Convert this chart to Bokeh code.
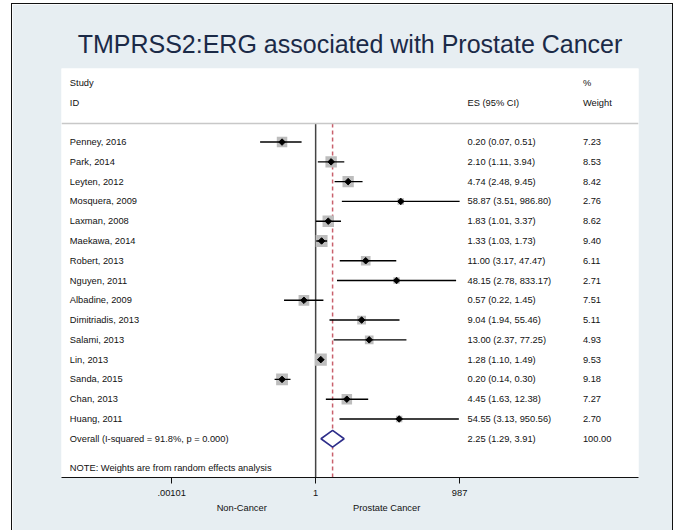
import numpy as np
from bokeh.plotting import figure
from bokeh.models import Range1d, LogAxis, FixedTicker, CustomJSTickFormatter, ColumnDataSource, Span
from bokeh.embed import file_html
from bokeh.resources import INLINE
from bokeh.core.properties import value

# ---------------- data ----------------
studies = ["Penney, 2016", "Park, 2014", "Leyten, 2012", "Mosquera, 2009", "Laxman, 2008",
           "Maekawa, 2014", "Robert, 2013", "Nguyen, 2011", "Albadine, 2009", "Dimitriadis, 2013",
           "Salami, 2013", "Lin, 2013", "Sanda, 2015", "Chan, 2013", "Huang, 2011"]
es = [0.20, 2.10, 4.74, 58.87, 1.83, 1.33, 11.00, 48.15, 0.57, 9.04, 13.00, 1.28, 0.20, 4.45, 54.55]
ci_low = [0.07, 1.11, 2.48, 3.51, 1.01, 1.03, 3.17, 2.78, 0.22, 1.94, 2.37, 1.10, 0.14, 1.63, 3.13]
ci_high = [0.51, 3.94, 9.45, 986.80, 3.37, 1.73, 47.47, 833.17, 1.45, 55.46, 77.25, 1.49, 0.30, 12.38, 950.56]
weights = [7.23, 8.53, 8.42, 2.76, 8.62, 9.40, 6.11, 2.71, 7.51, 5.11, 4.93, 9.53, 9.18, 7.27, 2.70]
overall_label = "Overall  (I-squared = 91.8%, p = 0.000)"
overall_es = 2.25
overall_low = 1.29
overall_high = 3.91
overall_weight = 100.00
tick_values = [0.00101, 1, 987]
tick_labels = [".00101", "1", "987"]
side_labels = ["Non-Cancer", "Prostate Cancer"]
title_text = "TMPRSS2:ERG associated with Prostate Cancer"
note_text = "NOTE: Weights are from random effects analysis"

# ---------------- layout constants (ln units / row units) ----------------
LN_LEFT, LN_RIGHT = -12.17, 15.46
ROW_TOP, ROW_BOTTOM = -3.72, 16.96
X_STUDY = np.exp(-11.77)
X_ES = np.exp(7.27)
X_WT = np.exp(12.80)
SIDE_POS = [np.exp(-3.54), np.exp(3.40)]
FONT = "Liberation Sans"
FS = "9.3px"

n = len(studies)
rows = list(range(n))
overall_row = n
sep_row = -0.94

p = figure(width=662, height=527, output_backend="svg", toolbar_location=None,
           x_axis_type="log", x_axis_location=None, y_axis_location=None,
           x_range=Range1d(np.exp(LN_LEFT), np.exp(LN_RIGHT)),
           y_range=Range1d(ROW_BOTTOM, ROW_TOP),
           min_border_left=49, min_border_right=36, min_border_top=64, min_border_bottom=54)
p.grid.visible = False
p.outline_line_color = None
p.background_fill_color = "white"
p.border_fill_color = "#e7eef2"
p.styles = {"border-left": "1px solid #111", "border-top": "1px solid #111",
            "border-right": "1px solid #111", "margin-left": "11px", "margin-top": "3px"}

p.title.text = title_text
p.title.align = "center"
p.title.text_font = FONT
p.title.text_font_size = "25px"
p.title.text_font_style = "normal"
p.title.text_color = "#1b2a47"
p.title.standoff = 21

src = ColumnDataSource(dict(
    study=studies, es=es, lo=ci_low, hi=ci_high, row=rows,
    size=[3.9 * np.sqrt(w) for w in weights],
    es_txt=[f"{e:.2f} ({l:.2f}, {h:.2f})" for e, l, h in zip(es, ci_low, ci_high)],
    wt_txt=[f"{w:.2f}" for w in weights],
))

# separator line under header
p.add_layout(Span(location=sep_row, dimension="width", line_color="#c8c8c8", line_width=1.5))

# null line and overall effect dashed line
p.segment(x0=[1], x1=[1], y0=[sep_row], y1=[ROW_BOTTOM + 1], line_color="#444444", line_width=1.5)
p.segment(x0=[overall_es], x1=[overall_es], y0=[sep_row], y1=[ROW_BOTTOM + 1],
          line_color="#c9606c", line_width=1.5, line_dash="4 3")

# weight boxes, CI lines, points
p.scatter(x="es", y="row", size="size", marker="square", source=src,
          fill_color="#bdbdbd", line_color=None)
p.segment(x0="lo", x1="hi", y0="row", y1="row", source=src, line_color="black", line_width=1.4)
p.scatter(x="es", y="row", size=4.6, marker="square", angle=np.pi / 4, source=src,
          fill_color="black", line_color="black")

# overall diamond
p.patch(x=[overall_low, overall_es, overall_high, overall_es],
        y=[overall_row, overall_row - 0.42, overall_row, overall_row + 0.42],
        fill_color="white", line_color="#2e2e8a", line_width=1.6)

# texts
tkw = dict(text_font=value(FONT), text_font_size=FS, text_baseline="middle", text_color="#111111")
p.text(x=X_STUDY, y="row", text="study", source=src, **tkw)
p.text(x=X_ES, y="row", text="es_txt", source=src, **tkw)
p.text(x=X_WT, y="row", text="wt_txt", source=src, **tkw)

p.text(x=[X_STUDY, X_STUDY], y=[-3, -2], text=["Study", "ID"], **tkw)
p.text(x=[X_ES], y=[-2], text=["ES (95% CI)"], **tkw)
p.text(x=[X_WT, X_WT], y=[-3, -2], text=["%", "Weight"], **tkw)

p.text(x=[X_STUDY], y=[overall_row], text=[overall_label], **tkw)
p.text(x=[X_ES], y=[overall_row], text=[f"{overall_es:.2f} ({overall_low:.2f}, {overall_high:.2f})"], **tkw)
p.text(x=[X_WT], y=[overall_row], text=[f"{overall_weight:.2f}"], **tkw)
p.text(x=[X_STUDY], y=[16.5], text=[note_text], **tkw)

# axes
ax = LogAxis(ticker=FixedTicker(ticks=tick_values),
             formatter=CustomJSTickFormatter(args=dict(labels=tick_labels), code="return labels[index];"))
ax.axis_line_color = "#111111"
ax.axis_line_width = 1.2
ax.major_tick_line_color = "#111111"
ax.major_tick_out = 6
ax.major_tick_in = 0
ax.minor_tick_line_color = None
ax.major_label_text_font = FONT
ax.major_label_text_font_size = FS
ax.major_label_text_color = "#111111"
ax.major_label_standoff = 6
p.add_layout(ax, "below")

ax2 = LogAxis(ticker=FixedTicker(ticks=SIDE_POS),
              formatter=CustomJSTickFormatter(args=dict(labels=side_labels), code="return labels[index];"))
ax2.axis_line_color = None
ax2.major_tick_line_color = None
ax2.minor_tick_line_color = None
ax2.major_label_text_font = FONT
ax2.major_label_text_font_size = FS
ax2.major_label_text_color = "#111111"
ax2.major_label_standoff = -2
p.add_layout(ax2, "below")

open("out.html", "w").write(file_html(p, INLINE))
